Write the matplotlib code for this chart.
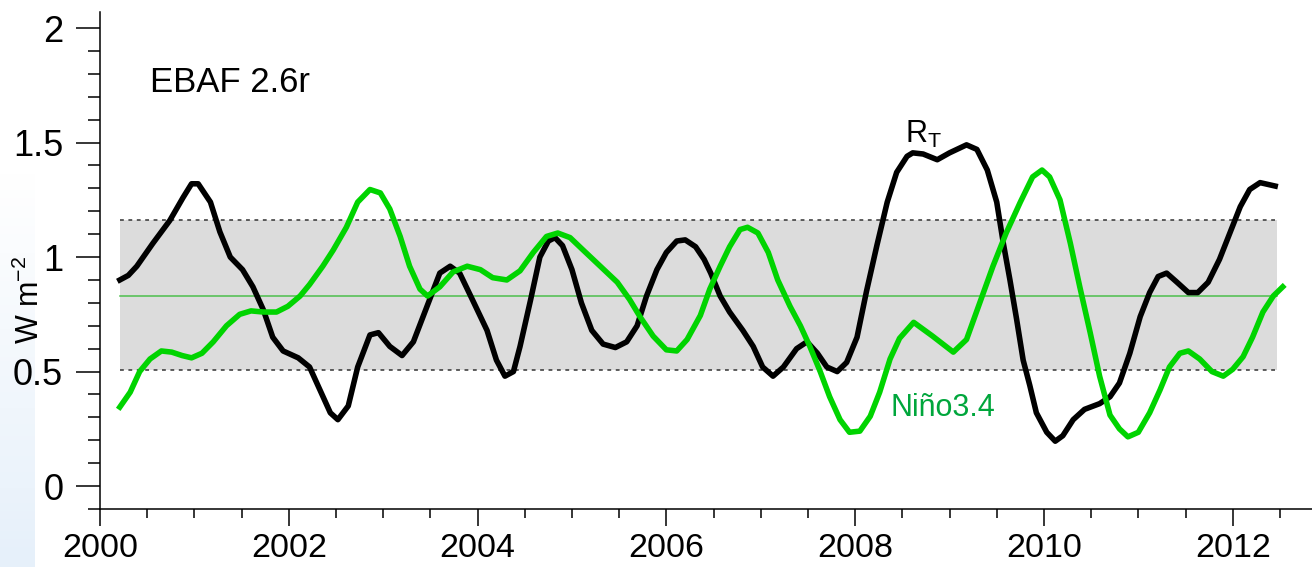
import numpy as np
import matplotlib.pyplot as plt
from matplotlib.ticker import MultipleLocator, FixedLocator

plt.rcParams['font.family'] = ['Liberation Sans', 'DejaVu Sans']

# R_T (black)
rt_years = [2000.21, 2000.30, 2000.39, 2000.56, 2000.74, 2000.88, 2000.97, 2001.04, 2001.17, 2001.27,
            2001.38, 2001.51, 2001.62, 2001.73, 2001.83, 2001.94, 2002.10, 2002.22, 2002.33, 2002.44,
            2002.52, 2002.63, 2002.73, 2002.86, 2002.95, 2003.07, 2003.20, 2003.32, 2003.46, 2003.60,
            2003.71, 2003.81, 2003.95, 2004.10, 2004.20, 2004.29, 2004.38, 2004.45, 2004.56, 2004.66,
            2004.75, 2004.82, 2004.90, 2005.00, 2005.10, 2005.21, 2005.33, 2005.46, 2005.58, 2005.69,
            2005.79, 2005.90, 2006.00, 2006.11, 2006.20, 2006.31, 2006.40, 2006.47, 2006.57, 2006.67,
            2006.81, 2006.92, 2007.02, 2007.13, 2007.24, 2007.38, 2007.49, 2007.60, 2007.70, 2007.81,
            2007.91, 2008.02, 2008.12, 2008.23, 2008.34, 2008.44, 2008.55, 2008.61, 2008.72, 2008.87,
            2009.00, 2009.18, 2009.29, 2009.40, 2009.50, 2009.57, 2009.64, 2009.71, 2009.78, 2009.85,
            2009.92, 2010.03, 2010.12, 2010.20, 2010.31, 2010.43, 2010.59, 2010.70, 2010.80, 2010.91,
            2011.02, 2011.12, 2011.21, 2011.30, 2011.41, 2011.53, 2011.63, 2011.74, 2011.86, 2011.97,
            2012.08, 2012.18, 2012.29, 2012.45]
rt_vals = [0.90, 0.92, 0.96, 1.06, 1.16, 1.26, 1.32, 1.32, 1.24, 1.11,
           1.00, 0.945, 0.87, 0.77, 0.65, 0.59, 0.56, 0.52, 0.42, 0.32,
           0.29, 0.35, 0.52, 0.66, 0.67, 0.61, 0.57, 0.63, 0.78, 0.93,
           0.96, 0.93, 0.81, 0.68, 0.55, 0.48, 0.50, 0.61, 0.81, 1.00,
           1.07, 1.085, 1.05, 0.945, 0.80, 0.68, 0.62, 0.605, 0.63, 0.70,
           0.83, 0.945, 1.02, 1.07, 1.075, 1.045, 0.99, 0.93, 0.83, 0.76,
           0.68, 0.61, 0.52, 0.48, 0.52, 0.60, 0.63, 0.58, 0.52, 0.50,
           0.54, 0.65, 0.85, 1.05, 1.24, 1.37, 1.44, 1.455, 1.45, 1.425,
           1.455, 1.49, 1.47, 1.38, 1.24, 1.06, 0.90, 0.73, 0.55, 0.44,
           0.32, 0.235, 0.196, 0.22, 0.29, 0.335, 0.36, 0.39, 0.45, 0.58,
           0.74, 0.845, 0.915, 0.93, 0.89, 0.845, 0.845, 0.89, 0.99, 1.105,
           1.22, 1.295, 1.325, 1.31]

# Nino3.4 (green)
nino_years = [2000.21, 2000.32, 2000.42, 2000.53, 2000.65, 2000.76, 2000.87, 2000.97, 2001.08, 2001.20,
              2001.34, 2001.48, 2001.60, 2001.73, 2001.87, 2001.99, 2002.12, 2002.22, 2002.36, 2002.47,
              2002.61, 2002.73, 2002.86, 2002.97, 2003.07, 2003.18, 2003.28, 2003.39, 2003.47, 2003.60,
              2003.74, 2003.89, 2004.03, 2004.16, 2004.31, 2004.45, 2004.59, 2004.73, 2004.85, 2004.98,
              2005.12, 2005.30, 2005.48, 2005.61, 2005.72, 2005.86, 2006.00, 2006.11, 2006.22, 2006.36,
              2006.46, 2006.57, 2006.67, 2006.78, 2006.86, 2006.97, 2007.08, 2007.18, 2007.31, 2007.42,
              2007.52, 2007.63, 2007.73, 2007.84, 2007.94, 2008.05, 2008.16, 2008.26, 2008.37, 2008.47,
              2008.62, 2008.82, 2009.04, 2009.18, 2009.32, 2009.46, 2009.60, 2009.75, 2009.88, 2009.98,
              2010.06, 2010.17, 2010.28, 2010.38, 2010.49, 2010.59, 2010.70, 2010.80, 2010.89, 2011.00,
              2011.12, 2011.23, 2011.33, 2011.44, 2011.53, 2011.65, 2011.78, 2011.90, 2012.00, 2012.11,
              2012.21, 2012.32, 2012.43, 2012.53]
nino_vals = [0.345, 0.41, 0.50, 0.555, 0.59, 0.585, 0.57, 0.56, 0.58, 0.63,
             0.70, 0.75, 0.765, 0.76, 0.76, 0.785, 0.83, 0.88, 0.96, 1.03,
             1.13, 1.24, 1.295, 1.28, 1.21, 1.09, 0.96, 0.86, 0.83, 0.87,
             0.935, 0.96, 0.945, 0.91, 0.90, 0.94, 1.02, 1.09, 1.105, 1.085,
             1.03, 0.96, 0.89, 0.815, 0.74, 0.655, 0.595, 0.59, 0.64, 0.745,
             0.86, 0.96, 1.045, 1.12, 1.13, 1.105, 1.02, 0.90, 0.785, 0.70,
             0.61, 0.50, 0.39, 0.29, 0.235, 0.24, 0.305, 0.41, 0.555, 0.645,
             0.715, 0.655, 0.585, 0.64, 0.80, 0.96, 1.105, 1.24, 1.35, 1.38,
             1.35, 1.25, 1.06, 0.87, 0.67, 0.48, 0.31, 0.25, 0.215, 0.235,
             0.32, 0.42, 0.52, 0.58, 0.59, 0.555, 0.50, 0.48, 0.51, 0.565,
             0.65, 0.76, 0.83, 0.87]

# scaled mean and range band
band_x = [2000.21, 2012.47]
band_lo = 0.505
band_hi = 1.16
band_mid = 0.832

fig = plt.figure(figsize=(13.12, 5.67), dpi=100)

# faint blue slide background at the left edge
bg = fig.add_axes([0, 0, 0.026, 0.70], zorder=-5)
grad = np.linspace(0, 1, 100).reshape(-1, 1)
bg.imshow(grad, aspect='auto', cmap=plt.matplotlib.colors.LinearSegmentedColormap.from_list(
    'bg', ['#e6f0fa', '#ffffff']), origin='lower', extent=[0, 1, 0, 1])
bg.axis('off')

ax = fig.add_axes([100/1312, 1 - 509/567, 1 - 100/1312, 497/567])
ax.patch.set_alpha(0)

ax.fill_between(band_x, band_lo, band_hi, color='#dcdcdc', lw=0, zorder=1)
ax.plot(band_x, [band_hi, band_hi], color='#333333', lw=1.1, ls=(0, (2.5, 3)), zorder=2)
ax.plot(band_x, [band_lo, band_lo], color='#333333', lw=1.1, ls=(0, (2.5, 3)), zorder=2)
ax.plot(band_x, [band_mid, band_mid], color='#4cbf4c', lw=1.1, zorder=2)

ax.plot(rt_years, rt_vals, color='black', lw=4, zorder=3, solid_joinstyle='round')
ax.plot(nino_years, nino_vals, color='#00d400', lw=4, zorder=4, solid_joinstyle='round')

ax.text(2000.53, 1.76, 'EBAF 2.6r', fontsize=25, va='center', ha='left')
ax.text(2008.53, 1.50, r'R$_\mathregular{T}$', fontsize=22, va='baseline', ha='left')
ax.text(2008.37, 0.305, 'Niño3.4', fontsize=22, color='#00a63c', va='baseline', ha='left')

ax.set_xlim(2000, 2012.84)
ax.set_ylim(-0.1, 2.07)

ax.xaxis.set_major_locator(FixedLocator(np.arange(2000, 2013, 2)))
ax.xaxis.set_minor_locator(FixedLocator(np.arange(2000, 2012.6, 0.5)))
ax.set_xticklabels([str(y) for y in range(2000, 2013, 2)])
ax.yaxis.set_major_locator(FixedLocator([0, 0.5, 1, 1.5, 2]))
ax.yaxis.set_minor_locator(MultipleLocator(0.1))
ax.set_yticklabels(['0', '0.5', '1', '1.5', '2'])

ax.tick_params(axis='x', which='major', length=12.5, width=1.1, pad=5, labelsize=24.5)
ax.tick_params(axis='x', which='minor', length=6.5, width=1.1)
ax.tick_params(axis='y', which='major', length=17.5, width=1.1, pad=9, labelsize=26)
ax.tick_params(axis='y', which='minor', length=8.7, width=1.1)

for s in ['top', 'right']:
    ax.spines[s].set_visible(False)
for s in ['left', 'bottom']:
    ax.spines[s].set_linewidth(1.1)

fig.text(30/1312, 1 - 300/567, r'W m$^{\mathregular{-2}}$', rotation=90, fontsize=22,
         ha='center', va='center')

fig.savefig('out.png', dpi=100)
